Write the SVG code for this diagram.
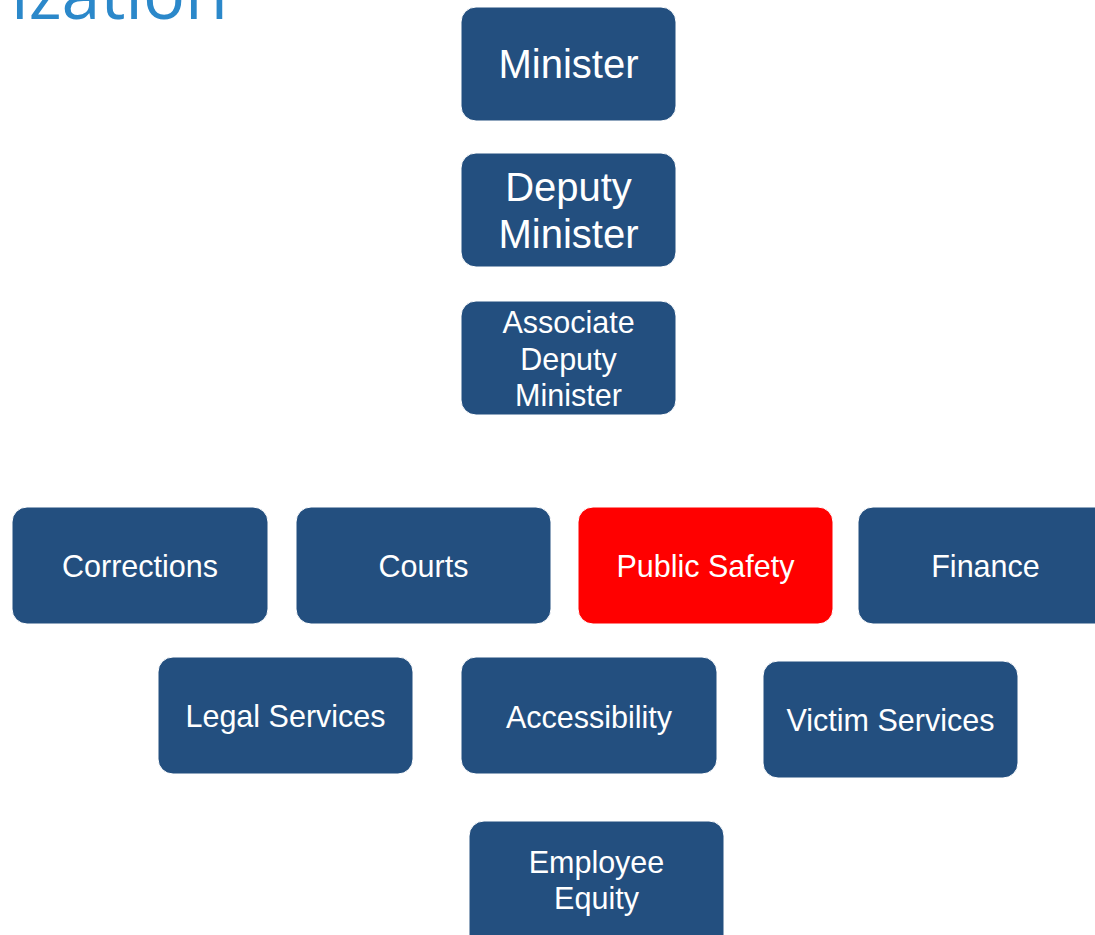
<svg xmlns="http://www.w3.org/2000/svg" width="1095" height="935" viewBox="0 0 1095 935">
<style>
.n{fill:#234F7F;stroke:#ffffff;stroke-width:1}
.r{fill:#FF0000;stroke:#ffffff;stroke-width:1}
text{font-family:"Liberation Sans",Arial,sans-serif;fill:#ffffff;text-anchor:middle}
.big{font-size:40px}
.med{font-size:30.5px}
.title{font-family:"Open Sans","Noto Sans",sans-serif;font-size:70px;fill:#2B88CA;text-anchor:start}
</style>
<rect width="1095" height="935" fill="#ffffff"/>
<text class="title" x="11" y="19">ization</text>
<g id="connectors"></g>
<g id="minister"><rect class="n" x="461" y="7" width="215" height="114" rx="15"/><text class="big" x="568.5" y="78">Minister</text></g>
<g id="deputy"><rect class="n" x="461" y="153" width="215" height="114" rx="15"/><text class="big" x="568.5" y="201">Deputy</text><text class="big" x="568.5" y="248">Minister</text></g>
<g id="associate"><rect class="n" x="461" y="301" width="215" height="114" rx="15"/><text class="med" x="568.5" y="333">Associate</text><text class="med" x="568.5" y="370">Deputy</text><text class="med" x="568.5" y="406">Minister</text></g>
<g id="corrections"><rect class="n" x="12" y="507" width="256" height="117" rx="15"/><text class="med" x="140" y="577">Corrections</text></g>
<g id="courts"><rect class="n" x="296" y="507" width="255" height="117" rx="15"/><text class="med" x="423.5" y="577">Courts</text></g>
<g id="publicsafety"><rect class="r" x="578" y="507" width="255" height="117" rx="15"/><text class="med" x="705.5" y="577">Public Safety</text></g>
<g id="finance"><rect class="n" x="858" y="507" width="255" height="117" rx="15"/><text class="med" x="985.5" y="577">Finance</text></g>
<g id="legal"><rect class="n" x="158" y="657" width="255" height="117" rx="15"/><text class="med" x="285.5" y="727">Legal Services</text></g>
<g id="accessibility"><rect class="n" x="461" y="657" width="256" height="117" rx="15"/><text class="med" x="589" y="728">Accessibility</text></g>
<g id="victim"><rect class="n" x="763" y="661" width="255" height="117" rx="15"/><text class="med" x="890.5" y="731">Victim Services</text></g>
<g id="equity"><rect class="n" x="469" y="821" width="255" height="130" rx="15"/><text class="med" x="596.5" y="873">Employee</text><text class="med" x="596.5" y="909">Equity</text></g>
</svg>
